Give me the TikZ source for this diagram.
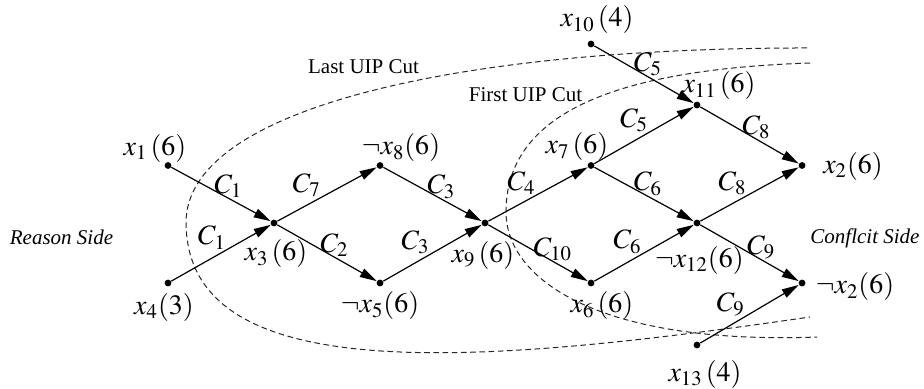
\documentclass[tikz,border=0pt]{standalone}
\usepackage{mathptmx}
\usepackage[no-math]{fontspec}
\setmainfont{Liberation Serif}
\usepackage{tikz}
\usetikzlibrary{arrows.meta, positioning}

\begin{document}
\begin{tikzpicture}[
  %% Literal dot
  dot/.style={circle, fill=black, inner sep=0pt, minimum size=3.4pt},
  %% Literal label (name and level)
  var/.style={font=\fontsize{14}{16}\selectfont, inner sep=0pt},
  %% Clause label on an edge
  clause/.style={font=\fontsize{14}{16}\selectfont, inner sep=0pt},
  %% Implication arrow
  imp/.style={-{Triangle[length=8.5pt,width=4.6pt]}, line width=0.6pt},
  %% Cut curve
  cut/.style={dash pattern=on 2.8pt off 1.8pt, line width=0.5pt, black!85},
  %% Plain text labels
  side/.style={font=\fontsize{10.5}{12}\selectfont\itshape, inner sep=0pt},
  cutname/.style={font=\fontsize{10.5}{12}\selectfont, inner sep=0pt},
]
\useasboundingbox (0,0) rectangle (16.237,6.818);

%% ── Columns (left to right) and rows (top to bottom) ───────────────────────
\def\cA{2.952}
\def\cB{4.815}
\def\cC{6.678}
\def\cD{8.523}
\def\cE{10.386}
\def\cF{12.248}
\def\cG{14.094}
\def\yT{6.045}  % x10
\def\yU{4.973}  % x11
\def\yH{3.910}  % upper row
\def\yM{2.900}  % middle row
\def\yL{1.845}  % lower row
\def\yB{0.756}  % x13

%% ── CUTS ───────────────────────────────────────────────────────────────────
\draw[cut] (14.181,5.975) .. controls (7.908,5.975) and (3.286,4.885) .. (3.269,2.917)
  .. controls (3.269,-0.035) and (8.435,0.404) .. (14.234,1.248);
\draw[cut] (14.234,5.711) .. controls (10.544,5.588) and (8.892,4.710) .. (8.892,3.093)
  .. controls (8.892,1.898) and (10.544,0.756) .. (14.357,0.896);
\node[cutname] (lastcut) at (6.388,5.650) {Last UIP Cut};
\node[cutname] (firstcut) at (9.235,5.158) {First UIP Cut};

%% ── SIDE LABELS ────────────────────────────────────────────────────────────
\node[side] (reason) at (1.081,2.653) {Reason Side};
\node[side] (conflict) at (15.200,2.636) {Conflcit Side};

%% ── LITERALS ───────────────────────────────────────────────────────────────
\node[dot] (x1)   at (\cA,\yH) {};
\node[dot] (x4)   at (\cA,\yL) {};
\node[dot] (x3)   at (\cB,\yM) {};
\node[dot] (nx8)  at (\cC,\yH) {};
\node[dot] (nx5)  at (\cC,\yL) {};
\node[dot] (x9)   at (\cD,\yM) {};
\node[dot] (x7)   at (\cE,\yH) {};
\node[dot] (x6)   at (\cE,\yL) {};
\node[dot] (x10)  at (\cE,\yT) {};
\node[dot] (x11)  at (\cF,\yU) {};
\node[dot] (nx12) at (\cF,\yM) {};
\node[dot] (x13)  at (\cF,\yB) {};
\node[dot] (x2)   at (\cG,\yH) {};
\node[dot] (nx2)  at (\cG,\yL) {};

\node[var] (lx1)   at (2.724,4.209)  {$x_1\,(6)$};
\node[var] (lx4)   at (2.882,1.415)  {$x_4(3)$};
\node[var] (lx3)   at (4.850,2.355)  {$x_3\,(6)$};
\node[var] (lnx8)  at (7.047,4.218)  {$\neg x_8(6)$};
\node[var] (lnx5)  at (6.678,1.441)  {$\neg x_5(6)$};
\node[var] (lx9)   at (8.488,2.337)  {$x_9\,(6)$};
\node[var] (lx7)   at (10.140,4.235) {$x_7\,(6)$};
\node[var] (lx6)   at (10.579,1.441) {$x_6\,(6)$};
\node[var] (lx10)  at (10.491,6.467) {$x_{10}\,(4)$};
\node[var] (lx11)  at (12.635,5.307) {$x_{11}\,(6)$};
\node[var] (lnx12) at (12.290,2.249) {$\neg x_{12}(6)$};
\node[var] (lx13)  at (12.389,0.246) {$x_{13}\,(4)$};
\node[var] (lx2)   at (14.990,3.901) {$x_2(6)$};
\node[var] (lnx2)  at (15.025,1.775) {$\neg x_2(6)$};

%% ── IMPLICATIONS ───────────────────────────────────────────────────────────
\draw[imp] (x1) -- (x3)   node[clause, pos=0.575, anchor=south] {$C_1$};
\draw[imp] (x4) -- (x3)   node[clause, pos=0.557, anchor=south east] {$C_1$};
\draw[imp] (x3) -- (nx8)  node[clause, pos=0.443, anchor=south east] {$C_7$};
\draw[imp] (x3) -- (nx5)  node[clause, pos=0.575, anchor=south] {$C_2$};
\draw[imp] (nx8) -- (x9)  node[clause, pos=0.59, anchor=south] {$C_3$};
\draw[imp] (nx5) -- (x9)  node[clause, pos=0.476, anchor=south east] {$C_3$};
\draw[imp] (x9) -- (x7)   node[clause, pos=0.48, anchor=south east] {$C_4$};
\draw[imp] (x9) -- (x6)   node[clause, pos=0.65, anchor=south] {$C_{10}$};
\draw[imp] (x10) -- (x11) node[clause, pos=0.54, anchor=south] {$C_5$};
\draw[imp] (x7) -- (x11)  node[clause, pos=0.547, anchor=south east] {$C_5$};
\draw[imp] (x7) -- (nx12) node[clause, pos=0.54, anchor=south] {$C_6$};
\draw[imp] (x6) -- (nx12) node[clause, pos=0.48, anchor=south east] {$C_6$};
\draw[imp] (x11) -- (x2)  node[clause, pos=0.57, anchor=south] {$C_8$};
\draw[imp] (nx12) -- (x2) node[clause, pos=0.476, anchor=south east] {$C_8$};
\draw[imp] (nx12) -- (nx2) node[clause, pos=0.62, anchor=south] {$C_9$};
\draw[imp] (x13) -- (nx2) node[clause, pos=0.458, anchor=south east] {$C_9$};

\end{tikzpicture}
\end{document}
